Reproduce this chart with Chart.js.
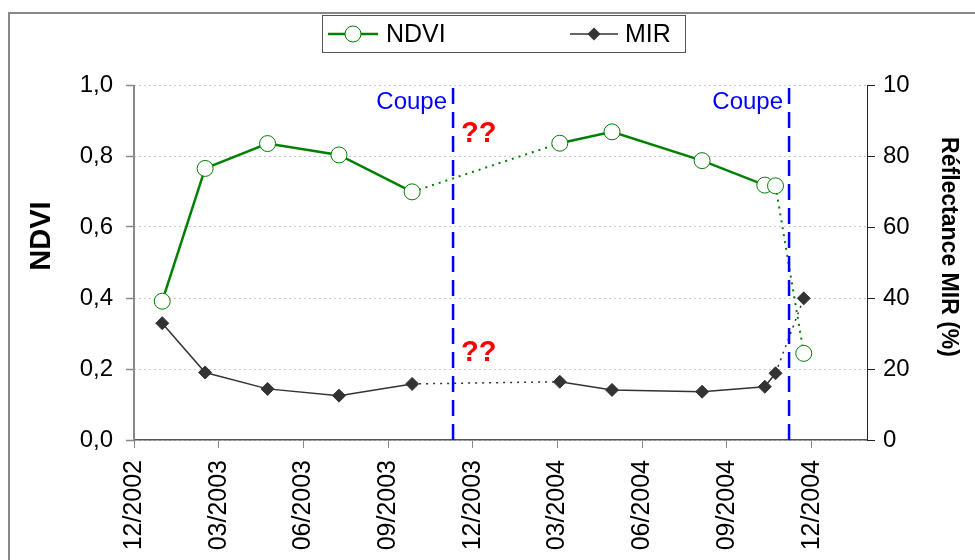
<!DOCTYPE html>
<html><head><meta charset="utf-8">
<script src="https://cdn.jsdelivr.net/npm/chart.js@4"></script>
<style>html,body{margin:0;padding:0;background:#fff}#wrap{width:975px;height:560px;position:relative}</style>
</head><body><div id="wrap"><canvas id="c" width="975" height="560"></canvas></div>
<script>
// Dates expressed as months elapsed since 12/2002
const dates = [1.00, 2.52, 4.73, 7.26, 9.85, 15.08, 16.93, 20.12, 22.34, 22.72, 23.72];
const ndvi = [0.391, 0.765, 0.835, 0.803, 0.699, 0.836, 0.868, 0.787, 0.718, 0.716, 0.244];
const mir = [32.9, 19.0, 14.4, 12.5, 15.8, 16.4, 14.1, 13.6, 15.0, 18.8, 39.9];
const dottedAfter = [4, 9];           // segments drawn dotted (index of start point)
const cutDates = [11.30, 23.20];      // "Coupe" dates
const xTickValues = [0, 3, 6, 9, 12, 15, 18, 21, 24];
const xTickLabels = ['12/2002','03/2003','06/2003','09/2003','12/2003','03/2004','06/2004','09/2004','12/2004'];
const ndviTickLabels = ['0,0','0,2','0,4','0,6','0,8','1,0'];
const mirTickLabels = ['0','20','40','60','80','10'];

const FONT = 'Arial, "Liberation Sans", sans-serif';
const GREEN = '#008000', DARK = '#333333', BLUE = '#0000ff';

const pts = (ys) => dates.map((d, i) => ({x: d, y: ys[i]}));
const cutDatasets = cutDates.map(c => ({
  type: 'line', data: [{x: c, y: 0}, {x: c, y: 1}], yAxisID: 'y',
  borderColor: BLUE, borderWidth: 2.5, borderDash: [16, 8], pointRadius: 0, order: 0
}));

const decor = {
  id: 'decor',
  beforeDraw(chart) {
    const ctx = chart.ctx;
    ctx.save();
    ctx.fillStyle = '#fff';
    ctx.fillRect(0, 0, chart.width, chart.height);
    ctx.strokeStyle = '#888';
    ctx.lineWidth = 2;
    ctx.strokeRect(9, 13, 1100, 700);
    ctx.restore();
  },
  beforeDatasetsDraw(chart) {
    const ctx = chart.ctx, a = chart.chartArea;
    ctx.save();
    ctx.strokeStyle = '#888';
    ctx.lineWidth = 2;
    ctx.beginPath(); ctx.moveTo(a.left, a.top); ctx.lineTo(a.left, a.bottom); ctx.stroke();
    ctx.restore();
  },
  afterDraw(chart) {
    const ctx = chart.ctx;
    const xs = chart.scales.x, ys = chart.scales.y;
    ctx.save();
    // Legend
    ctx.fillStyle = '#fff';
    ctx.fillRect(322, 15, 363, 37);
    ctx.strokeStyle = '#555';
    ctx.lineWidth = 1;
    ctx.strokeRect(322.5, 15.5, 363, 37);
    const ly = 34;
    ctx.strokeStyle = GREEN; ctx.lineWidth = 2.5;
    ctx.beginPath(); ctx.moveTo(328, ly); ctx.lineTo(378, ly); ctx.stroke();
    ctx.fillStyle = '#fff'; ctx.lineWidth = 1;
    ctx.beginPath(); ctx.arc(353, ly, 8, 0, Math.PI * 2); ctx.fill(); ctx.stroke();
    ctx.strokeStyle = DARK; ctx.lineWidth = 1.5;
    ctx.beginPath(); ctx.moveTo(570, ly); ctx.lineTo(618, ly); ctx.stroke();
    ctx.fillStyle = DARK;
    ctx.beginPath(); ctx.moveTo(594, ly - 6.5); ctx.lineTo(600.5, ly); ctx.lineTo(594, ly + 6.5); ctx.lineTo(587.5, ly); ctx.closePath(); ctx.fill();
    ctx.fillStyle = '#000';
    ctx.font = '25px ' + FONT;
    ctx.textBaseline = 'middle'; ctx.textAlign = 'left';
    ctx.fillText('NDVI', 386, ly + 1);
    ctx.fillText('MIR', 625, ly + 1);

    // Axis titles
    ctx.font = 'bold 29px ' + FONT;
    ctx.textAlign = 'center';
    ctx.save(); ctx.translate(42, 236); ctx.rotate(-Math.PI / 2); ctx.fillText('NDVI', 0, 0); ctx.restore();
    ctx.font = 'bold 23px ' + FONT;
    ctx.save(); ctx.translate(948, 247); ctx.rotate(Math.PI / 2); ctx.fillText('Réflectance MIR (%)', 0, 0); ctx.restore();

    // Annotations
    ctx.font = '24px ' + FONT;
    ctx.fillStyle = BLUE; ctx.textAlign = 'right';
    cutDates.forEach(c => ctx.fillText('Coupe', xs.getPixelForValue(c) - 6, ys.getPixelForValue(0.95)));
    ctx.font = 'bold 29px ' + FONT;
    ctx.fillStyle = '#ff0000'; ctx.textAlign = 'left';
    const qx = xs.getPixelForValue(cutDates[0]) + 8;
    ctx.fillText('??', qx, ys.getPixelForValue(0.862));
    ctx.fillText('??', qx, ys.getPixelForValue(0.245));
    ctx.restore();
  }
};

const segStyle = (dash, dotW) => ({
  borderDash: c => dottedAfter.includes(c.p0DataIndex) ? dash : undefined,
  borderWidth: c => dottedAfter.includes(c.p0DataIndex) ? dotW : undefined
});

new Chart(document.getElementById('c'), {
  type: 'line',
  data: {
    datasets: [
      {
        label: 'NDVI', data: pts(ndvi), yAxisID: 'y',
        borderColor: GREEN, borderWidth: 2.5, backgroundColor: '#fff',
        pointStyle: 'circle', pointRadius: 8, pointBorderWidth: 1,
        pointBorderColor: GREEN, pointBackgroundColor: '#fff',
        segment: segStyle([2, 5], 2), order: 1
      },
      {
        label: 'MIR', data: pts(mir), yAxisID: 'y1',
        borderColor: DARK, borderWidth: 1.5,
        pointStyle: 'rectRot', pointRadius: 6.5, pointBorderWidth: 1,
        pointBorderColor: DARK, pointBackgroundColor: DARK,
        segment: segStyle([2, 5], 1.5), order: 2
      },
      ...cutDatasets
    ]
  },
  options: {
    responsive: false, animation: false, devicePixelRatio: 1,
    layout: {padding: {left: 0, right: 0, top: 85, bottom: 0}},
    plugins: {legend: {display: false}, tooltip: {enabled: false}},
    scales: {
      x: {
        type: 'linear', min: 0, max: 25.96,
        afterBuildTicks: s => { s.ticks = xTickValues.map(v => ({value: v})); },
        afterFit: s => { s.height = 120; },
        ticks: {
          callback: v => xTickLabels[xTickValues.indexOf(v)],
          maxRotation: 90, minRotation: 90, padding: 12, autoSkip: false,
          font: {size: 25, family: FONT}, color: '#000'
        },
        grid: {drawOnChartArea: false, drawTicks: true, tickLength: 8, tickColor: '#888', color: '#888'},
        border: {color: '#555', width: 1.5}
      },
      y: {
        position: 'left', min: 0, max: 1,
        afterBuildTicks: s => { s.ticks = ndviTickLabels.map((_, i) => ({value: i * 0.2})); },
        afterFit: s => { s.width = 134; },
        ticks: {
          callback: (v) => ndviTickLabels[Math.round(v * 5)],
          padding: 13, font: {size: 24, family: FONT}, color: '#000'
        },
        grid: {color: '#c8c8c8', lineWidth: 1, tickLength: 8, tickColor: '#888', tickWidth: 1.5},
        border: {display: false, dash: [2, 3]}
      },
      y1: {
        position: 'right', min: 0, max: 100,
        afterBuildTicks: s => { s.ticks = mirTickLabels.map((_, i) => ({value: i * 20})); },
        afterFit: s => { s.width = 108; },
        ticks: {
          callback: (v) => mirTickLabels[Math.round(v / 20)],
          padding: 8, font: {size: 24, family: FONT}, color: '#000'
        },
        grid: {drawOnChartArea: false, tickLength: 8, tickColor: '#222'},
        border: {color: '#222', width: 1}
      }
    }
  },
  plugins: [decor]
});
</script>
</body></html>
